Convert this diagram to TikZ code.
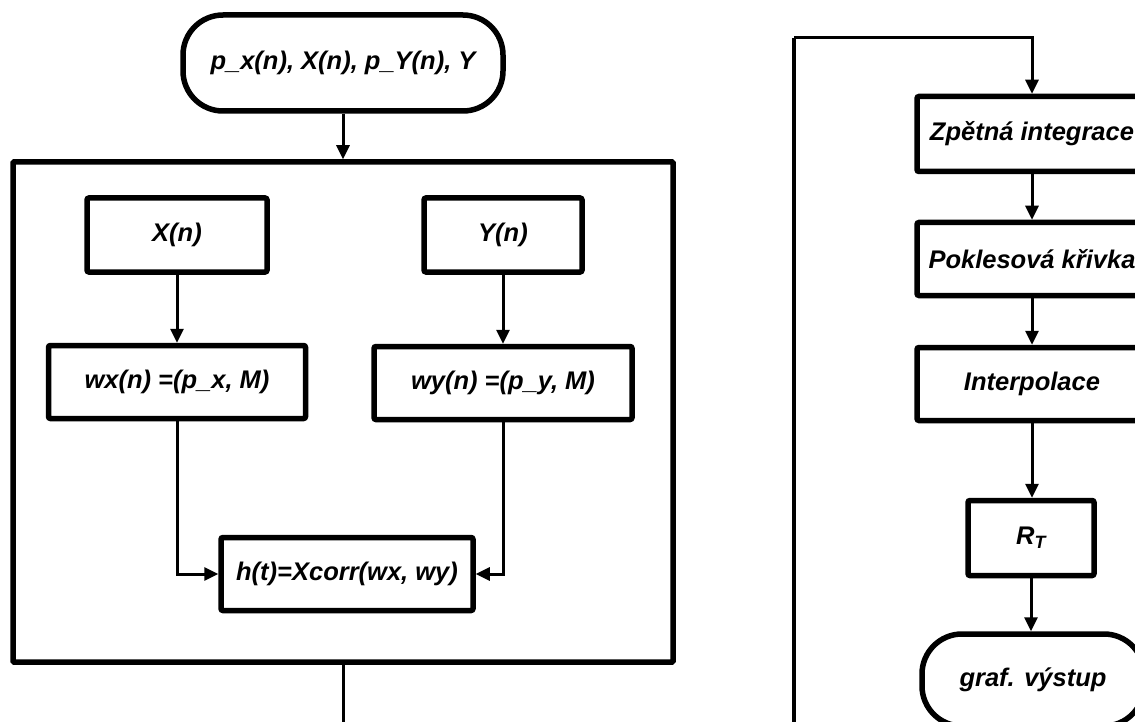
\documentclass[tikz,border=0pt]{standalone}
\usepackage{fontspec}
\setmainfont{Liberation Sans}
\usetikzlibrary{arrows.meta}
\begin{document}
\begin{tikzpicture}[x=1pt,y=-1pt,
  every node/.style={font=\fontsize{25.5}{29}\selectfont\bfseries\itshape},
  procbox/.style={draw,line width=5.5pt,rounded corners=2pt,inner sep=0pt},
  termbox/.style={draw,line width=5.5pt,rounded corners=40pt,inner sep=0pt},
  frame/.style={draw,line width=5.5pt,rounded corners=1pt,inner sep=0pt},
  flow/.style={line width=3pt,-{Triangle[length=14pt,width=13pt]}},
  plain/.style={line width=3pt}]
\clip (0,0) rectangle (1135,722);
\fill[white] (0,0) rectangle (1135,722);
% left part
\node[termbox,minimum width=320pt,minimum height=96pt] (start) at (343,63) {p\_x(n), X(n), p\_Y(n), Y};
\node[frame,minimum width=660pt,minimum height=500pt] (outer) at (343,412) {};
\node[procbox,minimum width=180pt,minimum height=74pt] (xn) at (177,235) {X(n)};
\node[procbox,minimum width=158pt,minimum height=74pt] (yn) at (503,235) {Y(n)};
\node[procbox,minimum width=257pt,minimum height=73pt] (wx) at (177,382) {wx(n) =(p\_x, M)};
\node[procbox,minimum width=258pt,minimum height=73pt] (wy) at (503,383) {wy(n) =(p\_y, M)};
\node[procbox,minimum width=252pt,minimum height=73pt] (hx) at (347,574) {h(t)=Xcorr(wx, wy)};
\draw[flow] (start.south) -- (outer.north);
\draw[flow] (xn.south) -- (wx.north);
\draw[flow] (yn.south) -- (wy.north);
\draw[flow] (wx.south) |- (hx.west);
\draw[flow] (wy.south) |- (hx.east);
% right part
\node[procbox,minimum width=230pt,minimum height=75pt] (zi) at (1032,134) {Zpětná integrace};
\node[procbox,minimum width=230pt,minimum height=73pt] (pk) at (1032,259) {Poklesová křivka};
\node[procbox,minimum width=230pt,minimum height=73pt] (ip) at (1032,384) {Interpolace};
\node[procbox,minimum width=126pt,minimum height=75pt] (rt) at (1031,538) {R\textsubscript{T}};
\node[termbox,minimum width=222pt,minimum height=92pt] (gv) at (1033,680) {graf. výstup};
\coordinate (down) at (343,760);
\coordinate (loopb) at (794,760);
\coordinate (loopt) at (794,38);
\draw[plain] (outer.south) -- (down) -- (loopb);
\draw[line width=3.5pt] (loopb) -- (loopt);
\draw[flow] (loopt) -| (zi.north);
\draw[flow] (zi.south) -- (pk.north);
\draw[flow] (pk.south) -- (ip.north);
\draw[flow] (ip.south) -- (ip.south |- rt.north);
\draw[flow] (rt.south) -- (rt.south |- gv.north);
\end{tikzpicture}
\end{document}
